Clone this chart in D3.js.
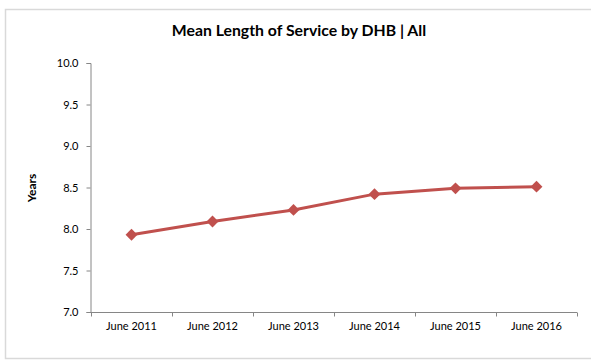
<!DOCTYPE html>
<html><head><meta charset="utf-8">
<script src="https://cdn.jsdelivr.net/npm/d3@7"></script>
<style>body{margin:0;background:#fff;} svg{display:block;}</style>
</head><body>
<script>
const categories = ["June 2011","June 2012","June 2013","June 2014","June 2015","June 2016"];
const values = [7.93, 8.09, 8.23, 8.42, 8.49, 8.51];
const yTicks = [7.0, 7.5, 8.0, 8.5, 9.0, 9.5, 10.0];
const title = "Mean Length of Service by DHB | All";
const yLabel = "Years";

const W = 591, H = 360;
const svg = d3.select("body").append("svg").attr("width", W).attr("height", H);
const font = "Lato, 'Open Sans', sans-serif";

svg.append("rect").attr("x", 5.5).attr("y", 9.5).attr("width", W).attr("height", 349)
  .attr("fill", "#fff").attr("stroke", "#d9d9d9").attr("stroke-width", 1.5);

const x = d3.scaleBand().domain(categories).range([91, 577]);
const y = d3.scaleLinear().domain([7, 10]).range([312, 63]);

svg.append("text").attr("x", 299).attr("y", 36).attr("text-anchor", "middle")
  .attr("font-family", font).attr("font-weight", "bold").attr("font-size", 15.8).attr("fill", "#000").text(title);

const yAxis = svg.append("g").attr("transform", "translate(90.5,0)")
  .call(d3.axisLeft(y).tickValues(yTicks).tickFormat(d3.format(".1f")).tickSizeOuter(0).tickSize(4).tickPadding(8));
yAxis.select(".domain").attr("stroke", "#868686");
yAxis.selectAll(".tick line").attr("stroke", "#868686");
yAxis.selectAll("text").attr("font-family", font).attr("font-size", 11).attr("fill", "#000");

const xAxis = svg.append("g").attr("transform", "translate(0,312.5)")
  .call(d3.axisBottom(x).tickSize(0).tickPadding(10));
xAxis.select(".domain").attr("stroke", "#868686").attr("d", "M91,0H577");
xAxis.selectAll(".tick text").attr("font-family", font).attr("font-size", 11).attr("fill", "#000");
const edges = categories.map(c => x(c)).concat([x.range()[1]]);
xAxis.selectAll(".edge").data(edges).enter().append("line").attr("class","edge")
  .attr("x1", d => d + 0.5).attr("x2", d => d + 0.5).attr("y1", 0).attr("y2", 4).attr("stroke", "#868686");

svg.append("text").attr("transform", "translate(36,188) rotate(-90)").attr("text-anchor", "middle")
  .attr("font-family", font).attr("font-weight", "bold").attr("font-size", 12).text(yLabel);

const cx = d => x(d) + x.bandwidth() / 2;
const line = d3.line().x((d, i) => cx(categories[i])).y(d => y(d));
svg.append("path").datum(values).attr("d", line).attr("fill", "none")
  .attr("stroke", "#C0504D").attr("stroke-width", 3);
svg.selectAll(".pt").data(values).enter().append("path").attr("class", "pt")
  .attr("transform", (d, i) => `translate(${cx(categories[i])},${y(d)})`)
  .attr("d", d3.symbol().type(d3.symbolDiamond2).size(90)).attr("fill", "#C0504D");
</script>
</body></html>
